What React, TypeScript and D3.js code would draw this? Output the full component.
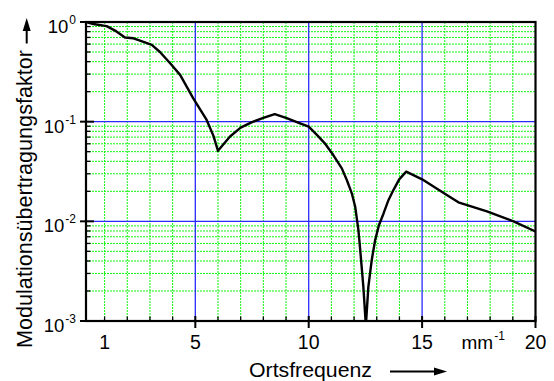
import React from "react";
import * as d3 from "d3";

const freq = [0.18, 0.5, 1.09, 1.46, 1.9, 2.27, 2.56, 3.08, 3.44, 3.89, 4.33, 4.91, 5.5, 5.8, 6.0, 6.53, 7.0, 7.5, 8.0, 8.5, 9.0, 9.62, 10.0, 10.36, 10.7, 11.09, 11.46, 11.68, 11.9, 12.05, 12.19, 12.27, 12.41, 12.52, 12.63, 12.78, 12.93, 13.1, 13.3, 13.52, 13.74, 13.99, 14.3, 15.0, 16.09, 16.6, 17.86, 19.03, 20.0];
const mtf = [1.0, 0.955, 0.91, 0.82, 0.7, 0.686, 0.65, 0.59, 0.5, 0.385, 0.295, 0.171, 0.104, 0.072, 0.051, 0.071, 0.087, 0.099, 0.109, 0.119, 0.109, 0.096, 0.089, 0.0736, 0.061, 0.046, 0.034, 0.026, 0.0191, 0.014, 0.0082, 0.0052, 0.0022, 0.0009, 0.0022, 0.0041, 0.0065, 0.0092, 0.012, 0.0164, 0.0207, 0.0264, 0.0315, 0.0264, 0.0184, 0.0155, 0.0126, 0.01, 0.0079];

const xMajor = [5, 10, 15];
const xMinor = [1, 2, 3, 4, 6, 7, 8, 9, 11, 12, 13, 14, 16, 17, 18, 19];
const xTickLabels = [1, 5, 10, 15, 20];
const yDecades = [1, 0.1, 0.01, 0.001];
const yExponents = ["0", "-1", "-2", "-3"];
const yMajorGrid = [0.1, 0.01];
const yMinorFactors = [2, 3, 4, 5, 6, 7, 8, 9];
const yMinorDecades = [0.001, 0.01, 0.1];

const W = 554, H = 381;
const L = 86, R = 535.5, T = 22, B = 321;
const FONT = "'Liberation Sans', Arial, Helvetica, sans-serif";

export default function App() {
  const x = d3.scaleLinear().domain([0.18, 20]).range([L, R]);
  const y = d3.scaleLog().domain([1e-3, 1]).range([B, T]);
  const yMinor: number[] = [];
  yMinorDecades.forEach((d) => yMinorFactors.forEach((f) => yMinor.push(d * f)));
  const pts = freq.map((f, i) => [f, mtf[i]] as [number, number]);
  const line = d3.line<[number, number]>().x((d) => x(d[0])).y((d) => y(d[1]));

  return (
    <svg width={W} height={H} style={{ position: "absolute", left: 0, top: 0, background: "#fff" }} fontFamily={FONT}>
      <defs>
        <clipPath id="plot">
          <rect x={L} y={T} width={R - L} height={B - T} />
        </clipPath>
      </defs>
      {/* minor grid */}
      <g stroke="#11f511" strokeWidth={1} strokeDasharray="2,1">
        {xMinor.map((v) => (
          <line key={"xm" + v} x1={x(v)} x2={x(v)} y1={T} y2={B} />
        ))}
        {yMinor.map((v, i) => (
          <line key={"ym" + i} x1={L} x2={R} y1={y(v)} y2={y(v)} />
        ))}
      </g>
      {/* major grid */}
      <g stroke="#2a2aff" strokeWidth={1.3}>
        {xMajor.map((v) => (
          <line key={"xM" + v} x1={x(v)} x2={x(v)} y1={T} y2={B} />
        ))}
        {yMajorGrid.map((v) => (
          <line key={"yM" + v} x1={L} x2={R} y1={y(v)} y2={y(v)} />
        ))}
      </g>
      {/* curve */}
      <path d={line(pts) || ""} fill="none" stroke="#000" strokeWidth={2.4} strokeLinejoin="round" clipPath="url(#plot)" />
      {/* frame */}
      <rect x={L} y={T} width={R - L} height={B - T} fill="none" stroke="#000" strokeWidth={2.2} />
      {/* y ticks */}
      <g stroke="#000" strokeWidth={2}>
        {yDecades.map((v) => (
          <line key={"yt" + v} x1={L - 6} x2={L + 8} y1={y(v)} y2={y(v)} />
        ))}
        {yMinor.map((v, i) => (
          <line key={"ytm" + i} x1={L} x2={L + 4.5} y1={y(v)} y2={y(v)} strokeWidth={1.3} />
        ))}
      </g>
      {/* x ticks */}
      <g stroke="#000" strokeWidth={2}>
        {[...xMajor, 20].map((v) => (
          <line key={"xt" + v} x1={x(v)} x2={x(v)} y1={B - 5} y2={B + 7} />
        ))}
        {xMinor.map((v) => (
          <line key={"xtm" + v} x1={x(v)} x2={x(v)} y1={B - 4.5} y2={B} strokeWidth={1.3} />
        ))}
      </g>
      {/* y tick labels */}
      {yDecades.map((v, i) => (
        <text key={"yl" + v} x={76} y={y(v) + 11} textAnchor="end" fontSize={18.5} fill="#000">
          10
          <tspan fontSize={12} dx={1} dy={-9}>{yExponents[i]}</tspan>
        </text>
      ))}
      {/* x tick labels */}
      {xTickLabels.map((v) => (
        <text key={"xl" + v} x={x(v)} y={349} textAnchor="middle" fontSize={19.5} fill="#000">
          {v}
        </text>
      ))}
      <text x={461.5} y={349} fontSize={19} fill="#000">
        mm
        <tspan fontSize={12} dx={1} dy={-9}>-1</tspan>
      </text>
      {/* x axis title */}
      <text x={249} y={377} fontSize={20} fill="#000" textLength={123} lengthAdjust="spacingAndGlyphs">
        Ortsfrequenz
      </text>
      <line x1={390} x2={436} y1={371.5} y2={371.5} stroke="#000" strokeWidth={2} />
      <path d="M434,367.5 L447,371.5 L434,375.5 Z" fill="#000" />
      {/* y axis title */}
      <text transform="translate(31.7,348) rotate(-90)" fontSize={22} fill="#000" textLength={298} lengthAdjust="spacingAndGlyphs">
        Modulationsübertragungsfaktor
      </text>
      <line x1={26.7} x2={26.7} y1={43.5} y2={29} stroke="#000" strokeWidth={2} />
      <path d="M22.7,31 L26.7,18 L30.7,31 Z" fill="#000" />
    </svg>
  );
}
